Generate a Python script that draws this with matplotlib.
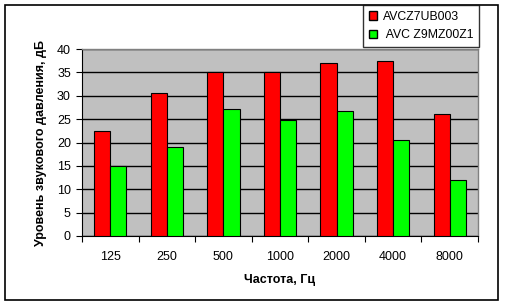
import matplotlib
matplotlib.use("Agg")
import matplotlib.pyplot as plt
from matplotlib.patches import Rectangle, Patch
import numpy as np

categories = ["125", "250", "500", "1000", "2000", "4000", "8000"]
series_names = ["AVCZ7UB003", " AVC Z9MZ00Z1"]
red_values = [22.5, 30.5, 35.0, 35.0, 36.9, 37.4, 26.0]
green_values = [15.0, 19.0, 27.1, 24.9, 26.7, 20.5, 11.9]
y_ticks = [0, 5, 10, 15, 20, 25, 30, 35, 40]

plt.rcParams['font.family'] = ['Liberation Sans', 'DejaVu Sans']

W, H = 514, 308
fig = plt.figure(figsize=(W/100, H/100), dpi=100)
fig.patch.set_facecolor('white')

# outer frame
fig.add_artist(Rectangle((5/W, 8/H), 493/W, 295/H, transform=fig.transFigure,
                         fill=False, edgecolor='black', linewidth=1.2))

ax = fig.add_axes([82/W, (308-236)/H, 396/W, 187/H])
ax.set_facecolor('#C0C0C0')

x = np.arange(len(categories))
w = 1/3.5
ax.bar(x - w/2, red_values, width=w, color='#FF0000', edgecolor='black', linewidth=0.8, zorder=3)
ax.bar(x + w/2, green_values, width=w, color='#00FF00', edgecolor='black', linewidth=0.8, zorder=3)

ax.set_ylim(0, 40)
ax.set_xlim(-0.5, len(categories) - 0.5)
ax.set_yticks(y_ticks)
ax.set_yticklabels([str(v) for v in y_ticks], fontsize=9)
ax.yaxis.grid(True, color='black', linewidth=1.0, zorder=1)
ax.set_axisbelow(True)

ax.set_xticks(np.arange(-0.5, len(categories)), labels=[])
ax.set_xticks(x, minor=True)
ax.set_xticklabels(categories, minor=True, fontsize=9)
ax.tick_params(axis='x', which='major', length=4, direction='out', color='black')
ax.tick_params(axis='x', which='minor', length=0, pad=11)
ax.tick_params(axis='y', length=4, direction='out', pad=4)

for s in ['top', 'right']:
    ax.spines[s].set_color('#808080')
    ax.spines[s].set_linewidth(1.0)
ax.spines['left'].set_color('black')
ax.spines['bottom'].set_color('black')

ax.set_xlabel("Частота, Гц", fontsize=9, fontweight='bold', labelpad=8)
ax.set_ylabel("Уровень звукового давления, дБ", fontsize=9, fontweight='bold', labelpad=7)

handles = [Patch(facecolor='#FF0000', edgecolor='black', label=series_names[0]),
           Patch(facecolor='#00FF00', edgecolor='black', label=series_names[1])]
leg = fig.legend(handles=handles, loc='upper left', bbox_to_anchor=(363/W, 1 - 5/H),
                 fontsize=8.8, frameon=True, fancybox=False, handlelength=0.7, handleheight=0.7,
                 handletextpad=0.5, borderpad=0.45, labelspacing=0.55, borderaxespad=0)
leg.get_frame().set_edgecolor('black')
leg.get_frame().set_linewidth(1.0)

fig.savefig("out.png", dpi=100)
